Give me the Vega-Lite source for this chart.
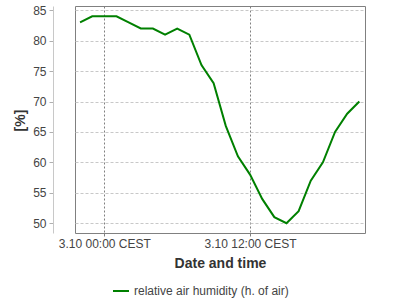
{
  "$schema": "https://vega.github.io/schema/vega-lite/v6.json",
  "autosize": "none",
  "width": 290,
  "height": 227,
  "padding": {"left": 75, "top": 6, "right": 35, "bottom": 67},
  "background": "white",
  "config": {
    "font": "Liberation Sans",
    "view": {"stroke": "#808080", "strokeWidth": 1}
  },
  "data": {
    "values": [
      {"time": "2023-10-02T22:00:00Z", "humidity": 83, "series": "relative air humidity (h. of air)"},
      {"time": "2023-10-02T23:00:00Z", "humidity": 84, "series": "relative air humidity (h. of air)"},
      {"time": "2023-10-03T00:00:00Z", "humidity": 84, "series": "relative air humidity (h. of air)"},
      {"time": "2023-10-03T01:00:00Z", "humidity": 84, "series": "relative air humidity (h. of air)"},
      {"time": "2023-10-03T02:00:00Z", "humidity": 83, "series": "relative air humidity (h. of air)"},
      {"time": "2023-10-03T03:00:00Z", "humidity": 82, "series": "relative air humidity (h. of air)"},
      {"time": "2023-10-03T04:00:00Z", "humidity": 82, "series": "relative air humidity (h. of air)"},
      {"time": "2023-10-03T05:00:00Z", "humidity": 81, "series": "relative air humidity (h. of air)"},
      {"time": "2023-10-03T06:00:00Z", "humidity": 82, "series": "relative air humidity (h. of air)"},
      {"time": "2023-10-03T07:00:00Z", "humidity": 81, "series": "relative air humidity (h. of air)"},
      {"time": "2023-10-03T08:00:00Z", "humidity": 76, "series": "relative air humidity (h. of air)"},
      {"time": "2023-10-03T09:00:00Z", "humidity": 73, "series": "relative air humidity (h. of air)"},
      {"time": "2023-10-03T10:00:00Z", "humidity": 66, "series": "relative air humidity (h. of air)"},
      {"time": "2023-10-03T11:00:00Z", "humidity": 61, "series": "relative air humidity (h. of air)"},
      {"time": "2023-10-03T12:00:00Z", "humidity": 58, "series": "relative air humidity (h. of air)"},
      {"time": "2023-10-03T13:00:00Z", "humidity": 54, "series": "relative air humidity (h. of air)"},
      {"time": "2023-10-03T14:00:00Z", "humidity": 51, "series": "relative air humidity (h. of air)"},
      {"time": "2023-10-03T15:00:00Z", "humidity": 50, "series": "relative air humidity (h. of air)"},
      {"time": "2023-10-03T16:00:00Z", "humidity": 52, "series": "relative air humidity (h. of air)"},
      {"time": "2023-10-03T17:00:00Z", "humidity": 57, "series": "relative air humidity (h. of air)"},
      {"time": "2023-10-03T18:00:00Z", "humidity": 60, "series": "relative air humidity (h. of air)"},
      {"time": "2023-10-03T19:00:00Z", "humidity": 65, "series": "relative air humidity (h. of air)"},
      {"time": "2023-10-03T20:00:00Z", "humidity": 68, "series": "relative air humidity (h. of air)"},
      {"time": "2023-10-03T21:00:00Z", "humidity": 70, "series": "relative air humidity (h. of air)"}
    ]
  },
  "mark": {"type": "line", "strokeWidth": 2, "clip": true},
  "encoding": {
    "x": {
      "field": "time",
      "type": "temporal",
      "scale": {"type": "utc", "domain": ["2023-10-02T21:35:00Z", "2023-10-03T21:28:00Z"], "nice": false},
      "axis": {
        "title": "Date and time",
        "titleFont": "Liberation Sans",
        "titleFontSize": 14,
        "titleFontWeight": "bold",
        "titleColor": "#333333",
        "titlePadding": 7,
        "values": ["2023-10-03T00:00:00Z", "2023-10-03T12:00:00Z"],
        "labelExpr": "utcFormat(datum.value, '%-d.%m %H:%M CEST')",
        "labelFontSize": 12,
        "labelColor": "#444444",
        "labelPadding": 2,
        "labelFlush": false,
        "tickSize": 3,
        "tickColor": "#808080",
        "domain": false,
        "grid": true,
        "gridColor": "#808080",
        "gridDash": [2, 2],
        "gridWidth": 1
      }
    },
    "y": {
      "field": "humidity",
      "type": "quantitative",
      "scale": {"domain": [48.4, 85.7], "nice": false, "zero": false},
      "axis": {
        "title": "[%]",
        "titleFont": "Liberation Sans",
        "titleFontSize": 14,
        "titleFontWeight": "bold",
        "titleColor": "#333333",
        "titleX": -33,
        "titleY": 114,
        "titleAngle": -90,
        "titleAlign": "center",
        "titleBaseline": "middle",
        "values": [50, 55, 60, 65, 70, 75, 80, 85],
        "offset": 22,
        "labelFontSize": 12,
        "labelColor": "#444444",
        "labelPadding": 3,
        "tickSize": 4,
        "tickColor": "#b0b0b0",
        "domainColor": "#c8c8c8",
        "grid": true,
        "gridColor": "#c8c8c8",
        "gridDash": [3, 2],
        "gridWidth": 1
      }
    },
    "color": {
      "field": "series",
      "type": "nominal",
      "scale": {"range": ["#008000"]},
      "legend": {
        "title": null,
        "orient": "none",
        "legendX": 37,
        "legendY": 276,
        "symbolType": "stroke",
        "symbolSize": 256,
        "symbolStrokeWidth": 2,
        "labelFontSize": 12,
        "labelColor": "#444444",
        "labelFont": "Liberation Sans"
      }
    }
  }
}
